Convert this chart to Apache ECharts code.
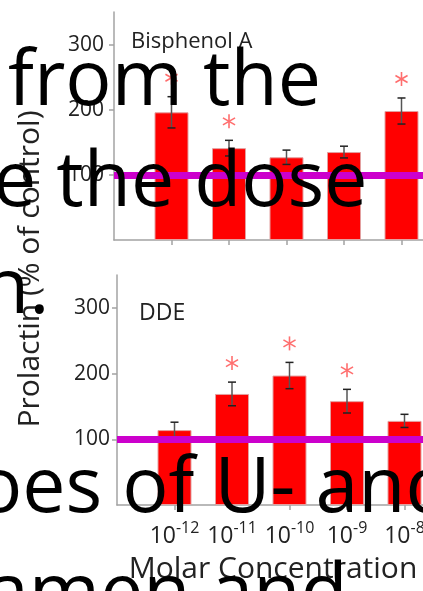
<!DOCTYPE html>
<html>
<head>
<meta charset="utf-8">
<script src="https://cdn.jsdelivr.net/npm/echarts@6/dist/echarts.min.js"></script>
<style>
  html, body { margin: 0; padding: 0; background: #fff; }
  #chart { width: 423px; height: 591px; }
</style>
</head>
<body>
<div id="chart"></div>
<script>
// Molar concentrations (powers of ten) shown on the x axis
const exponents = ['-12', '-11', '-10', '-9', '-8'];

// Bisphenol A: prolactin release, % of control (mean and error)
const bpaMean = [196, 141, 127, 135, 198];
const bpaErr  = [24, 12, 11, 9, 20];
const bpaSig  = [true, true, false, false, true];

// DDE: prolactin release, % of control (mean and error)
const ddeMean = [114, 169, 197, 158, 128];
const ddeErr  = [12, 18, 20, 18, 10];
const ddeSig  = [false, true, true, true, false];

// Axis ticks and the control level
const yTicks = [100, 200, 300];
const CONTROL = 100;

// Slide text lines laid over the figure
const slideLines = ['from the', 'e the dose', 'n.', 'oes of U- and', 'amen and'];

const FONT = '"Open Sans", "Noto Sans", sans-serif';
const RED = '#ff0000';
const MAGENTA = '#cc00cc';
const STAR = '#ff6e6e';
const AXIS = '#a3a3a3';
const TEXT = '#222';

const xPos = exponents.map((_, i) => i + 1);

function barData(means) { return means.map((v, i) => [xPos[i], v]); }
function errData(means, errs) { return means.map((v, i) => [xPos[i], v - errs[i], v + errs[i]]); }
function starData(means, errs, sig) {
  return means.map((v, i) => [xPos[i], v + errs[i]]).filter((_, i) => sig[i]);
}

function renderError(params, api) {
  const x = api.value(0);
  const lo = api.coord([x, api.value(1)]);
  const hi = api.coord([x, api.value(2)]);
  const hw = 4;
  return {
    type: 'group',
    children: [
      { type: 'line', shape: { x1: hi[0], y1: hi[1], x2: lo[0], y2: lo[1] }, style: { stroke: '#555', lineWidth: 1.5 } },
      { type: 'line', shape: { x1: hi[0] - hw, y1: hi[1], x2: hi[0] + hw, y2: hi[1] }, style: { stroke: '#222', lineWidth: 1.5 } },
      { type: 'line', shape: { x1: lo[0] - hw, y1: lo[1], x2: lo[0] + hw, y2: lo[1] }, style: { stroke: '#222', lineWidth: 1.5 } }
    ]
  };
}

// Six-armed asterisk marking a significant difference
function renderStar(params, api) {
  const p = api.coord([api.value(0), api.value(1)]);
  const cx = p[0], cy = p[1] - 19, r = 7;
  const children = [90, 30, 150].map(deg => {
    const a = deg * Math.PI / 180;
    return {
      type: 'line',
      shape: { x1: cx - r * Math.cos(a), y1: cy - r * Math.sin(a), x2: cx + r * Math.cos(a), y2: cy + r * Math.sin(a) },
      style: { stroke: STAR, lineWidth: 1.6 }
    };
  });
  return { type: 'group', children };
}

function yAxisCfg(gridIndex, margin) {
  return {
    type: 'value', gridIndex, min: 0, max: 350, interval: 100,
    splitLine: { show: false },
    axisLine: { show: true, lineStyle: { color: AXIS, width: 1.5 } },
    axisTick: { show: true, length: 5, customValues: yTicks, lineStyle: { color: AXIS, width: 1.5 } },
    axisLabel: { customValues: yTicks, margin, color: TEXT, fontFamily: FONT, fontSize: 21 }
  };
}

function xAxisCfg(gridIndex, showLabels) {
  return {
    type: 'value', gridIndex, min: 0, max: 6, interval: 1,
    splitLine: { show: false },
    axisLine: { show: true, onZero: false, lineStyle: { color: AXIS, width: 1.5 } },
    axisTick: { show: true, length: 5, customValues: xPos, lineStyle: { color: AXIS, width: 1.5 } },
    axisLabel: {
      show: showLabels, customValues: xPos, margin: 15,
      formatter: v => '{b|10}{s|' + exponents[v - 1] + '}',
      rich: {
        b: { fontFamily: FONT, fontSize: 23, color: TEXT, lineHeight: 28, verticalAlign: 'bottom' },
        s: { fontFamily: FONT, fontSize: 16, color: TEXT, lineHeight: 16, verticalAlign: 'top' }
      }
    }
  };
}

function panelSeries(idx, means, errs, sig) {
  return [
    {
      type: 'bar', xAxisIndex: idx, yAxisIndex: idx, z: 2,
      data: barData(means), barWidth: 34,
      itemStyle: { color: RED, borderColor: '#e3a0a0', borderWidth: 1 }
    },
    {
      type: 'line', xAxisIndex: idx, yAxisIndex: idx, z: 3, data: [], symbol: 'none',
      markLine: {
        silent: true, symbol: 'none', label: { show: false },
        lineStyle: { color: MAGENTA, width: 7, type: 'solid' },
        data: [{ yAxis: CONTROL }]
      }
    },
    {
      type: 'custom', xAxisIndex: idx, yAxisIndex: idx, z: 4,
      renderItem: renderError, data: errData(means, errs)
    },
    {
      type: 'custom', xAxisIndex: idx, yAxisIndex: idx, z: 4,
      renderItem: renderStar, data: starData(means, errs, sig)
    }
  ];
}

// Large slide text, one element per line
const slideX = [8, -7, -18, -24, -14];
const slideBaseline = [122, 223, 330, 529, 635];
const slideGraphics = slideLines.map((t, i) => ({
  type: 'text', z: 100, x: slideX[i], y: slideBaseline[i],
  style: { text: t, fill: '#000', font: '400 77px ' + FONT, verticalAlign: 'bottom' }
}));

const chart = echarts.init(document.getElementById('chart'), null, { renderer: 'canvas' });
chart.setOption({
  animation: false,
  backgroundColor: '#fff',
  grid: [
    { left: 114, top: 12, width: 345, height: 228, outerBoundsMode: 'none' },
    { left: 117, top: 275, width: 345, height: 230, outerBoundsMode: 'none' }
  ],
  xAxis: [xAxisCfg(0, false), xAxisCfg(1, true)],
  yAxis: [yAxisCfg(0, 10), yAxisCfg(1, 7)],
  series: [
    ...panelSeries(0, bpaMean, bpaErr, bpaSig),
    ...panelSeries(1, ddeMean, ddeErr, ddeSig)
  ],
  graphic: [
    { type: 'text', x: 131, y: 53, style: { text: 'Bisphenol A', fill: TEXT, font: '400 22px ' + FONT, verticalAlign: 'bottom' } },
    { type: 'text', x: 139, y: 325, style: { text: 'DDE', fill: TEXT, font: '400 23px ' + FONT, verticalAlign: 'bottom' } },
    { type: 'text', x: 30, y: 269, rotation: Math.PI / 2,
      style: { text: 'Prolactin (% of control)', fill: TEXT, font: '400 30px ' + FONT, align: 'center', verticalAlign: 'middle' } },
    { type: 'text', x: 273, y: 584,
      style: { text: 'Molar Concentration', fill: TEXT, font: '400 30px ' + FONT, align: 'center', verticalAlign: 'bottom' } },
    ...slideGraphics
  ]
});
</script>
</body>
</html>
